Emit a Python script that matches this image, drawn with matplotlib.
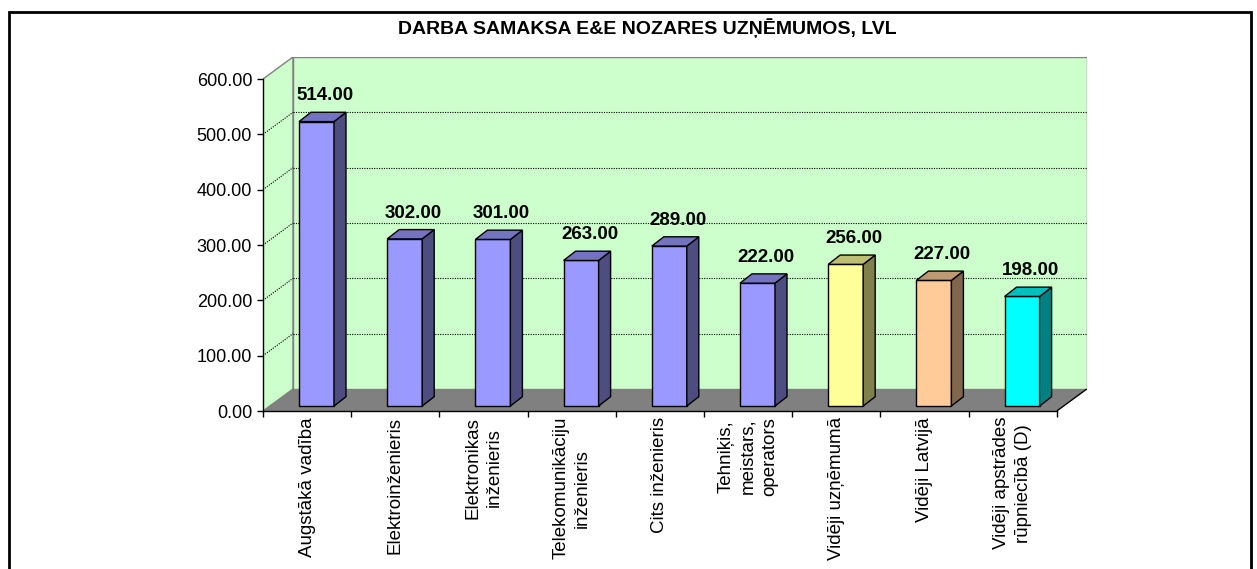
import matplotlib
matplotlib.use("Agg")
import matplotlib.pyplot as plt
from matplotlib.patches import Polygon, Rectangle
from matplotlib.colors import to_rgb
import numpy as np

plt.rcParams['font.family'] = ['Liberation Sans', 'DejaVu Sans']

# ---------------- data ----------------
title = "DARBA SAMAKSA E&E NOZARES UZŅĒMUMOS, LVL"
categories = [
    "Augstākā vadība",
    "Elektroinženieris",
    "Elektronikas\ninženieris",
    "Telekomunikāciju\ninženieris",
    "Cits inženieris",
    "Tehniķis,\nmeistars,\noperators",
    "Vidēji uzņēmumā",
    "Vidēji Latvijā",
    "Vidēji apstrādes\nrūpniecībā (D)",
]
values = [514, 302, 301, 263, 289, 222, 256, 227, 198]
bar_colors = ["#9999FF"] * 6 + ["#FFFF99", "#FFCC99", "#00FFFF"]
y_ticks = [0, 100, 200, 300, 400, 500, 600]

# ---------------- geometry (pixels) ----------------
W, H = 1257, 569
fig = plt.figure(figsize=(W / 100, H / 100), dpi=100)

x0_px, y0_px = 263, 411          # front-left origin of the plot
cat_px = 88.2                    # width of one category on the front plane
unit_px = 332 / 600              # pixels per value unit
wall_dx_px, wall_dy_px = 30, 22  # depth of the 3D box
n = len(values)
ymax = y_ticks[-1]

ddx = wall_dx_px / cat_px
ddy = wall_dy_px / unit_px

ax = fig.add_axes([x0_px / W,
                   1 - y0_px / H,
                   (n * cat_px + wall_dx_px) / W,
                   (ymax * unit_px + wall_dy_px) / H])
ax.set_xlim(0, n + ddx)
ax.set_ylim(0, ymax + ddy)
ax.patch.set_visible(False)

wall_color = "#CCFFCC"
edge_gray = "#808080"

# side wall
ax.add_patch(Polygon([(0, 0), (0, ymax), (ddx, ymax + ddy), (ddx, ddy)],
                     closed=True, fc=wall_color, ec=edge_gray, lw=1.0, zorder=0.5))
# back wall
ax.add_patch(Rectangle((ddx, ddy), n, ymax, fc=wall_color, ec=edge_gray,
                       lw=1.0, zorder=0.5))
# floor
ax.add_patch(Polygon([(0, 0), (n, 0), (n + ddx, ddy), (ddx, ddy)],
                     closed=True, fc="#808080", ec="none", zorder=1))
ax.plot([n, n + ddx], [0, ddy], color="black", lw=1.0, zorder=2.5,
        solid_capstyle="butt")

# gridlines
for t in y_ticks[1:-1]:
    ax.plot([ddx, n + ddx], [t + ddy, t + ddy], color="black", lw=0.8,
            linestyle=(0, (1, 1.2)), zorder=0.8)
    ax.plot([0, ddx], [t, t + ddy], color="black", lw=0.8,
            linestyle=(0, (1, 1.2)), zorder=0.8)

# bars
face_off = 36 / cat_px
bar_w = 35 / cat_px
bar_bottom = 5 / unit_px
cdx = 12 / cat_px
cdy = 9.3 / unit_px

xs = np.arange(n) + face_off
ax.bar(xs, values, width=bar_w, bottom=bar_bottom, align="edge",
       color=bar_colors, edgecolor="black", lw=1.0, zorder=3)

for x, v, c in zip(xs, values, bar_colors):
    rgb = np.array(to_rgb(c))
    side_c = rgb * 0.5
    top_c = rgb * 0.75
    xr = x + bar_w
    yt = bar_bottom + v
    ax.add_patch(Polygon([(xr, bar_bottom), (xr + cdx, bar_bottom + cdy),
                          (xr + cdx, yt + cdy), (xr, yt)],
                         closed=True, fc=side_c, ec="black", lw=1.0, zorder=3))
    ax.add_patch(Polygon([(x, yt), (x + cdx, yt + cdy),
                          (xr + cdx, yt + cdy), (xr, yt)],
                         closed=True, fc=top_c, ec="black", lw=1.0, zorder=3))
    ax.text(x + bar_w / 2 + 8.5 / cat_px, yt + cdy + 12 / unit_px, f"{v:.2f}",
            ha="center", va="baseline", fontsize=13.5, fontweight="bold",
            zorder=4)

# axes
for s in ("top", "right"):
    ax.spines[s].set_visible(False)
ax.spines["left"].set_bounds(0, ymax)
ax.spines["bottom"].set_bounds(0, n)
for s in ("left", "bottom"):
    ax.spines[s].set_linewidth(1.0)
    ax.spines[s].set_color("black")

ax.set_yticks(y_ticks, labels=[f"{t:.2f}" for t in y_ticks])
ax.tick_params(axis="y", length=4.3, width=1.0, pad=3.5, labelsize=13,
               direction="out")

ax.set_xticks(np.arange(n) + 0.5, labels=categories)
ax.set_xticks(np.arange(n + 1), minor=True)
ax.tick_params(axis="x", which="major", length=0, pad=4.3, labelsize=13.5,
               labelrotation=90)
ax.tick_params(axis="x", which="minor", length=4.3, width=1.0,
               direction="out")
for lab in ax.get_xticklabels():
    lab.set_multialignment("center")
    lab.set_linespacing(1.35)

# title
fig.text(647 / W, 1 - 28.5 / H, title, ha="center", va="center",
         fontsize=14, fontweight="bold")

# outer frame
fig.add_artist(Rectangle((9 / W, -0.1), (1251 - 9) / W, 1.1 - 12 / H,
                         transform=fig.transFigure, fill=False,
                         ec="black", lw=2))

fig.savefig("out.png", dpi=100)
